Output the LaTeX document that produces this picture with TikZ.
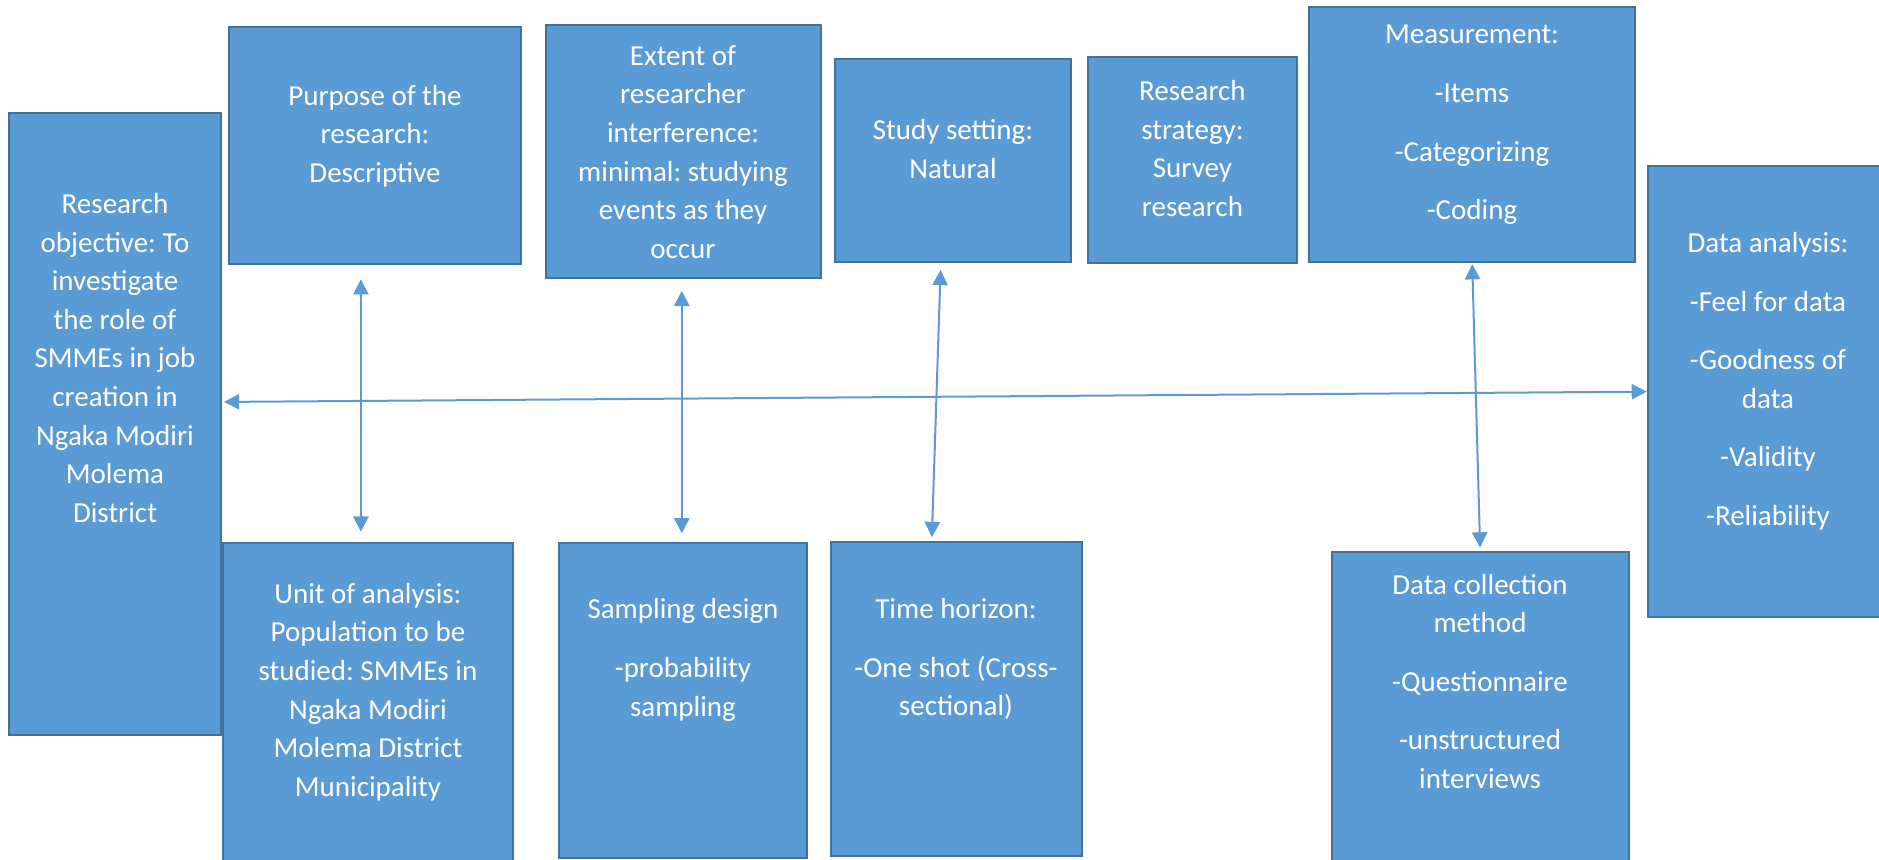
\documentclass[tikz,border=0pt]{standalone}
\usepackage{fontspec}
\setmainfont{Carlito}
\usetikzlibrary{arrows.meta,fit,calc}
\definecolor{boxfill}{HTML}{5B9BD5}
\definecolor{boxline}{HTML}{41719C}
\definecolor{arrline}{HTML}{5B9BD5}
\begin{document}
\frenchspacing
\begin{tikzpicture}[x=0.5pt,y=-0.5pt,
  box/.style={draw=boxline, fill=boxfill, line width=1pt, inner sep=0pt},
  txt/.style={text=white, align=center, font=\fontsize{14.5}{19.3}\selectfont\frenchspacing, inner sep=0pt},
  link/.style={draw=arrline, line width=1pt, {Triangle[length=7.6pt,width=7.6pt]}-{Triangle[length=7.6pt,width=7.6pt]}}]
\useasboundingbox (0,0) rectangle (1879,860);
% boxes
\node[box, fit={(8.9,113.3) (221,735)}] (obj) {};
\node[box, fit={(229,26.7) (521,264.3)}] (purpose) {};
\node[box, fit={(545.5,25) (821.4,278.3)}] (extent) {};
\node[box, fit={(835.3,59) (1071,262.3)}] (study) {};
\node[box, fit={(1087.5,57.3) (1297.3,262.7)}] (strategy) {};
\node[box, fit={(1309.4,7.3) (1635,262.2)}] (measure) {};
\node[box, fit={(1647.9,166.2) (1888,617.1)}] (analysis) {};
\node[box, fit={(223.2,542.7) (512.5,875)}] (unit) {};
\node[box, fit={(559.4,542.7) (807,857.7)}] (sampling) {};
\node[box, fit={(830.8,542.3) (1081.7,855.7)}] (timeh) {};
\node[box, fit={(1331.7,552.3) (1628.7,875)}] (collect) {};
% texts
\node[txt] (obj-t) at (115,358) {Research\\objective: To\\investigate\\the role of\\SMMEs in job\\creation in\\Ngaka Modiri\\Molema\\District};
\node[txt] (purpose-t) at (375,136) {Purpose of the\\research:\\Descriptive};
\node[txt] (extent-t) at (683,152) {Extent of\\researcher\\interference:\\minimal: studying\\events as they\\occur};
\node[txt] (study-t) at (953,149) {Study setting:\\Natural};
\node[txt] (strategy-t) at (1192.4,148.7) {Research\\strategy:\\Survey\\research};
\node[txt] (measure-t) at (1472,125) {Measurement:\\[10pt]-Items\\[10pt]-Categorizing\\[10pt]-Coding};
\node[txt] (analysis-t) at (1768,381.3) {Data analysis:\\[10pt]-Feel for data\\[10pt]-Goodness of\\data\\[10pt]-Validity\\[10pt]-Reliability};
\node[txt] (unit-t) at (368,692) {Unit of analysis:\\Population to be\\studied: SMMEs in\\Ngaka Modiri\\Molema District\\Municipality};
\node[txt] (sampling-t) at (683,660) {Sampling design\\[10pt]-probability\\sampling};
\node[txt] (timeh-t) at (956,659) {Time horizon:\\[10pt]-One shot (Cross-\\sectional)};
\node[txt] (collect-t) at (1480,681.3) {Data collection\\method\\[10pt]-Questionnaire\\[10pt]-unstructured\\interviews};
% connectors
\draw[link, shorten <=1pt] ($(obj.north east)!0.4644!(obj.south east)$) -- (analysis.west);
\coordinate (a1) at ($(purpose.south west)!0.452!(purpose.south east)$);
\draw[link, shorten <=7pt, shorten >=5pt] (a1) -- (a1 |- unit.north);
\coordinate (a2) at ($(extent.south west)!0.494!(extent.south east)$);
\draw[link, shorten <=5.8pt, shorten >=4.2pt] (a2) -- (a2 |- sampling.north);
\draw[link, shorten <=3.3pt, shorten >=2.1pt] ($(study.south west)!0.448!(study.south east)$) -- ($(timeh.north west)!0.403!(timeh.north east)$);
\draw[link, shorten <=0.5pt, shorten >=1.9pt] (measure.south) -- (collect.north);
\end{tikzpicture}
\end{document}
